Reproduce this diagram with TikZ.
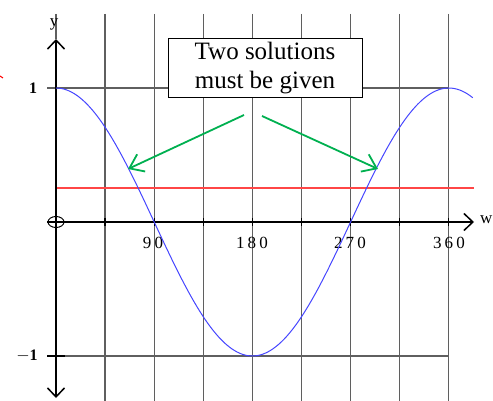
\documentclass[tikz,border=0pt]{standalone}
\usepackage{fontspec}
\setmainfont{Liberation Serif}
\newfontfamily\boxfont{Liberation Serif}
\newfontfamily\lblfont[LetterSpace=18]{Liberation Serif}
\usetikzlibrary{arrows.meta}
\definecolor{gridc}{RGB}{95,95,95}
\definecolor{curvec}{RGB}{70,70,255}
\definecolor{redl}{RGB}{255,70,70}
\definecolor{greenl}{RGB}{0,176,80}
\begin{document}
\begin{tikzpicture}[x=1pt,y=-1pt,
  gridline/.style={gridc,line width=1.3pt},
  axisline/.style={black,line width=1.5pt},
  axarrow/.style={-{Straight Barb[length=9pt,width=17pt,line width=1.5pt]}},
  garrow/.style={greenl,line width=1.8pt,-{Straight Barb[length=13pt,width=19pt,line width=1.8pt]}},
  numlbl/.style={font=\lblfont\fontsize{17}{19}\selectfont,inner sep=0pt},
  boxnode/.style={draw,line width=1pt,fill=white,minimum width=194pt,minimum height=59pt,align=center,inner sep=2pt,
    font=\boxfont\fontsize{25}{29}\selectfont}]
\useasboundingbox (0,0) rectangle (493,401);
% vertical grid lines
\foreach \k in {1,...,8} {
  \draw[gridline] ({56+\k*49.1},14) -- ({56+\k*49.1},401);
}
% horizontal grid lines at y = 1 and y = -1
\draw[gridc,line width=1.2pt] (47,88) -- (449,88);
\draw[gridc,line width=1.2pt] (47,356) -- (449,356);
% red line
\draw[redl,line width=1.2pt] (56,188) -- (474,188);
% x axis
\coordinate (xs) at (47,222);
\coordinate (xe) at (474,222);
\draw[axisline,axarrow] (xs) -- (xe);
\node[font=\fontsize{17}{19}\selectfont,anchor=west,inner sep=0pt] (wl) at (480,220) {w};
% ticks on x axis
\foreach \k in {1,...,8} {
  \draw[black,line width=1.3pt] ({56+\k*49.1},218) -- ({56+\k*49.1},226);
}
% y axis
\coordinate (yb) at (56,14);
\coordinate (yt) at (56,39);
\coordinate (yd) at (56,398);
\draw[gridc,line width=1.3pt] (yb) -- (yt);
\draw[axisline,axarrow] (56,222) -- (yt);
\draw[axisline,axarrow] (56,222) -- (yd);
\node[font=\fontsize{17}{19}\selectfont,inner sep=0pt] (yl) at (54,24) {y};
\draw[black,line width=1.2pt] (47,356) -- (65,356);
% origin circle
\draw[black,line width=1pt] (56,222) ellipse (8 and 5.5);
% labels
\node[numlbl] (l90) at (153,243) {90};
\node[numlbl] (l180) at (252,243) {180};
\node[numlbl] (l270) at (350,243) {270};
\node[numlbl] (l360) at (449,243) {360};
\node[font=\fontsize{16}{18}\selectfont\bfseries,inner sep=0pt] (lone) at (33,88) {1};
\node[font=\fontsize{16}{18}\selectfont\bfseries,inner sep=0pt] (lmone) at (27,356) {$-$1};
% cosine curve
\draw[curvec,line width=1pt] plot[domain=0:382,samples=160,smooth] ({56+\x*1.0911},{222-134*cos(\x)});
% box
\node[boxnode] (box) at (265,68.5) {Two solutions\\must be given};
% green arrows
\coordinate (ls) at (244,115);
\coordinate (lt) at (128,169);
\coordinate (rs) at (262,116);
\coordinate (rt) at (378,169);
\draw[garrow] (ls) -- (lt);
\draw[garrow] (rs) -- (rt);
% red mark at left edge
\coordinate (rm1) at (0,76);
\coordinate (rm2) at (3,78);
\draw[red,line width=1pt] (rm1) -- (rm2);
\end{tikzpicture}
\end{document}
